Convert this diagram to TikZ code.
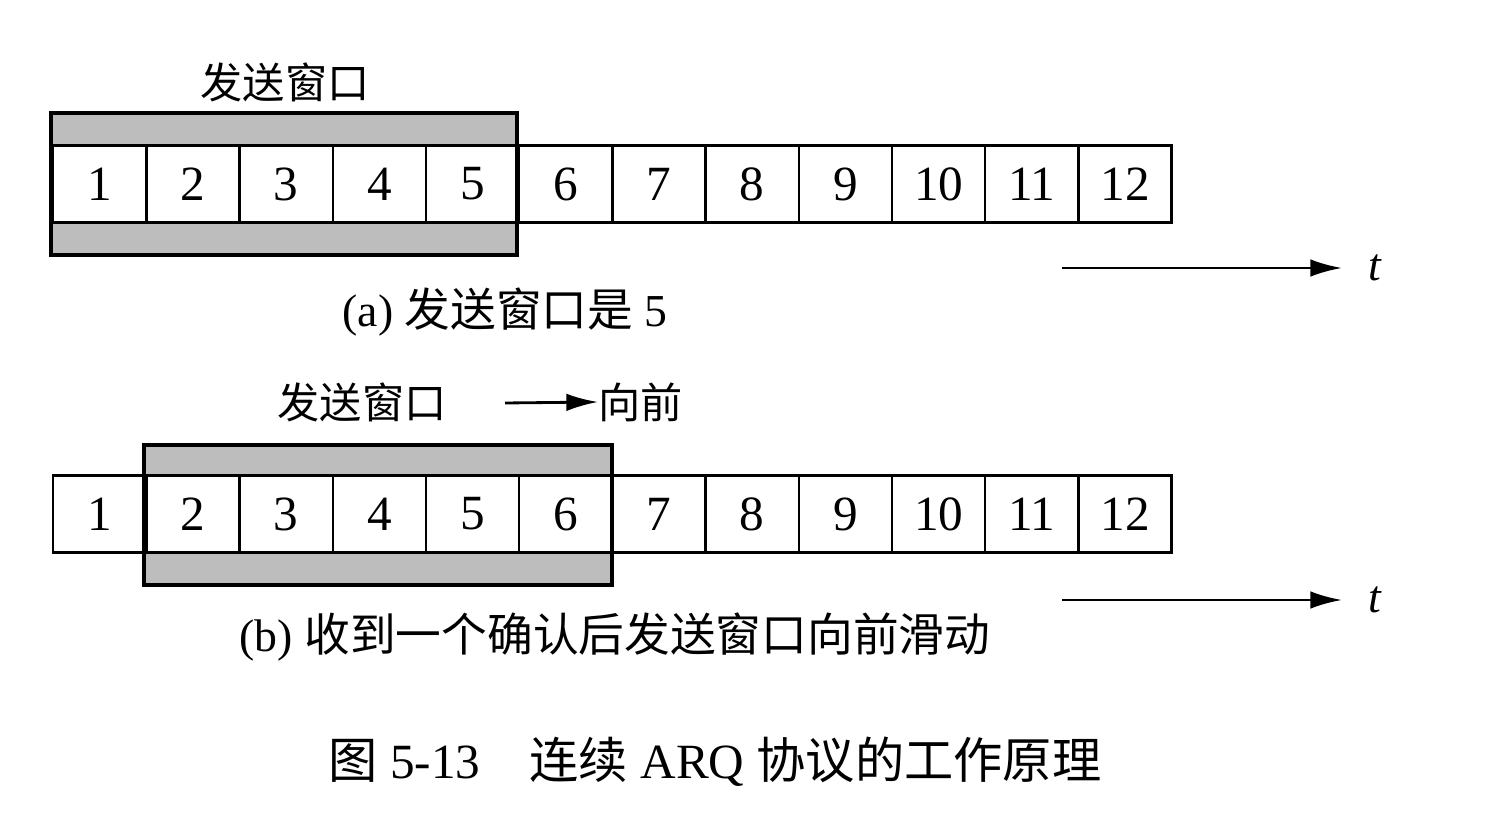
\documentclass[tikz,border=0pt]{standalone}
\usepackage{fontspec}
\setmainfont{Liberation Serif}
\newfontfamily\cjk{Noto Sans CJK SC}
\usetikzlibrary{arrows.meta, positioning, calc}
\definecolor{winGray}{HTML}{BDBDBD}
\tikzset{
    cell/.style={draw, line width=0.7pt, minimum width=0.932cm, minimum height=0.77cm, inner sep=0pt, font=\fontsize{14}{14}\selectfont, anchor=west},
    winband/.style={fill=winGray, draw=none},
    winframe/.style={draw, line width=1.4pt},
    tarrow/.style={-{Latex[length=9pt,width=5pt]}, line width=0.8pt},
    cnlabel/.style={font=\cjk\fontsize{12}{12}\selectfont, inner sep=0pt}
}
\begin{document}
\begin{tikzpicture}[x=0.01cm, y=-0.01cm]
    \useasboundingbox (0,0) rectangle (1500,813);
    % --- (a) ---
    \fill[winband] (52,115) rectangle (516,254);
    \foreach \i in {1,...,12} \node[cell, fill=white] (a\i) at ({52+(\i-1)*93.2}, 184) {\i};
    \draw[winframe] (51,113) rectangle (517,255);
    \node[cnlabel] (awin) at (285,82) {发送窗口};
    \coordinate (at0) at (1062,268);
    \coordinate (at1) at (1342,268);
    \draw[tarrow] (at0) -- (at1);
    \node[font=\itshape\fontsize{13}{13}\selectfont, right=4pt of at1] (atl) {t};
    \node[font=\fontsize{13}{13}\selectfont] (acap) at (505,312) {(a) {\cjk 发送窗口是} 5};
    % --- (b) ---
    \fill[winband] (145,446) rectangle (611,584);
    \foreach \i in {1,...,12} \node[cell, fill=white] (b\i) at ({52+(\i-1)*93.2}, 514) {\i};
    \draw[winframe] (144,445) rectangle (612,585);
    \node[cnlabel] (bwin) at (362,402) {发送窗口};
    \coordinate (bm0) at (505,403);
    \node[cnlabel, anchor=west] (bfwd) at (598,402) {向前};
    \draw[tarrow] (bm0) -- (bfwd.west);
    \coordinate (bt0) at (1062,600);
    \coordinate (bt1) at (1342,600);
    \draw[tarrow] (bt0) -- (bt1);
    \node[font=\itshape\fontsize{13}{13}\selectfont, right=4pt of bt1] (btl) {t};
    \node[font=\fontsize{13}{13}\selectfont] (bcap) at (615,637) {(b) {\cjk 收到一个确认后发送窗口向前滑动}};
    % --- caption ---
    \node[font=\fontsize{14}{14}\selectfont] (fig) at (715,762) {{\cjk 图} 5-13\quad{\cjk 连续} ARQ {\cjk 协议的工作原理}};
\end{tikzpicture}
\end{document}
